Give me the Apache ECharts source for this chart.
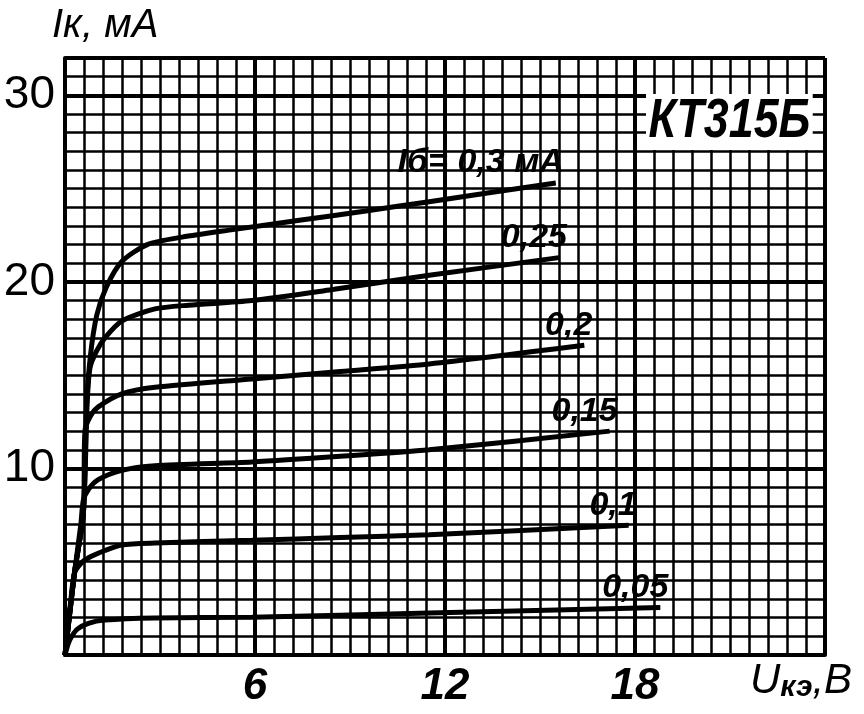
<!DOCTYPE html>
<html>
<head>
<meta charset="utf-8" />
<title>КТ315Б</title>
<script src="https://cdn.jsdelivr.net/npm/echarts@6/dist/echarts.min.js"></script>
<style>
  html, body { margin: 0; padding: 0; background: #fff; }
  #chart { width: 864px; height: 714px; }
</style>
</head>
<body>
<div id="chart"></div>
<script>
// выходные характеристики: [Uкэ, В ; Iк, мА]
var curve005 = [[0,0],[0.1,0.6],[0.21,1.0],[0.4,1.4],[0.74,1.7],[1.26,1.87],[2.84,1.98],[5.9,2.03],[11.5,2.25],[18.8,2.55]];
var curve01  = [[0,0],[0.2,3.2],[0.3,4.4],[0.5,4.9],[0.73,5.2],[1.26,5.6],[1.79,5.9],[2.84,6.0],[5.9,6.15],[8.7,6.3],[11.5,6.45],[17.8,6.95]];
var curve015 = [[0,0],[0.3,4.4],[0.5,7.0],[0.58,8.3],[0.75,8.9],[1.05,9.4],[1.79,9.9],[2.84,10.15],[5.9,10.35],[8.7,10.65],[11.5,11.0],[17.2,12.0]];
var curve02  = [[0,0],[0.3,4.4],[0.58,7.6],[0.63,12.0],[0.8,12.8],[1.05,13.3],[1.79,14.0],[2.84,14.35],[5.9,14.8],[8.7,15.2],[11.5,15.6],[16.4,16.6]];
var curve025 = [[0,0],[0.3,4.4],[0.58,7.6],[0.7,13.5],[0.79,15.4],[1.0,16.3],[1.26,17.0],[1.79,17.9],[2.84,18.55],[3.9,18.75],[5.9,19.0],[8.5,19.6],[11.5,20.35],[15.6,21.3]];
var curve03  = [[0,0],[0.3,4.4],[0.58,7.6],[0.68,13.3],[0.8,16.0],[1.0,18.2],[1.3,19.7],[1.8,21.1],[2.6,22.0],[3.7,22.4],[5.3,22.8],[7.4,23.3],[9.5,23.8],[11.5,24.3],[15.5,25.3]];

var curves = [curve005, curve01, curve015, curve02, curve025, curve03];
var curveNames = ['0,05', '0,1', '0,15', '0,2', '0,25', 'Iб= 0,3 мА'];
var xTicks = [6, 12, 18];
var yTicks = [10, 20, 30];

var handFont = '"Liberation Sans", Arimo, sans-serif';

var myChart = echarts.init(document.getElementById('chart'));

var series = curves.map(function (c, i) {
    return {
        type: 'line',
        name: curveNames[i],
        data: c,
        smooth: 0.25,
        symbol: 'none',
        z: 5,
        lineStyle: { color: '#000', width: 5 },
        endLabel: {
            show: true,
            formatter: curveNames[i],
            align: 'right',
            verticalAlign: 'bottom',
            offset: [0, -3],
            color: '#000',
            fontFamily: handFont,
            fontStyle: 'italic',
            fontWeight: 'bold',
            fontSize: 34
        }
    };
});

var option = {
    animation: false,
    backgroundColor: '#fff',
    grid: { left: 65, top: 58, right: 39, bottom: 59 },
    xAxis: {
        type: 'value',
        min: 0,
        max: 24,
        interval: 6,
        axisLine: { show: true, onZero: false, lineStyle: { color: '#000', width: 4 } },
        axisTick: { show: false },
        axisLabel: {
            margin: 10,
            color: '#000',
            fontFamily: handFont,
            fontStyle: 'italic',
            fontWeight: 'bold',
            fontSize: 44,
            formatter: function (v) { return xTicks.indexOf(v) >= 0 ? String(v) : ''; }
        },
        splitLine: { show: true, lineStyle: { color: '#000', width: 4 } },
        minorTick: { show: false, splitNumber: 10 },
        minorSplitLine: { show: true, lineStyle: { color: '#000', width: 2.5 } }
    },
    yAxis: [{
        type: 'value',
        min: 0,
        max: 32,
        interval: 1,
        axisLine: { show: true, onZero: false, lineStyle: { color: '#000', width: 4 } },
        axisTick: { show: false },
        axisLabel: {
            margin: 10,
            color: '#000',
            fontFamily: handFont,
            fontSize: 46,
            formatter: function (v) { return yTicks.indexOf(v) >= 0 ? String(v) : ''; }
        },
        splitLine: { show: true, lineStyle: { color: '#000', width: 2.5 } }
    }, {
        // толстые линии сетки через 10 мА
        type: 'value',
        min: 0,
        max: 32,
        interval: 10,
        position: 'left',
        axisLine: { show: false },
        axisTick: { show: false },
        axisLabel: { show: false },
        splitLine: { show: true, lineStyle: { color: '#000', width: 4 } }
    }],
    graphic: [{
        type: 'text',
        left: 52,
        top: 6,
        style: {
            text: 'Iк, мА',
            fill: '#000',
            font: 'italic 40px ' + handFont
        }
    }, {
        type: 'text',
        left: 750,
        top: 660,
        style: {
            text: 'U{s|кэ},B',
            fill: '#000',
            font: 'italic 42px ' + handFont,
            rich: {
                s: { fontSize: 30, fontFamily: handFont, fontStyle: 'italic', fontWeight: 'bold', padding: [14, 0, 0, 0] }
            }
        }
    }, {
        type: 'text',
        left: 646,
        top: 94,
        z: 10,
        scaleX: 0.8,
        style: {
            text: 'КТ315Б',
            fill: '#000',
            font: 'italic bold 56px ' + handFont,
            backgroundColor: '#fff',
            padding: [0, 3, 0, 3]
        }
    }],
    series: series
};

myChart.setOption(option);
</script>
</body>
</html>
